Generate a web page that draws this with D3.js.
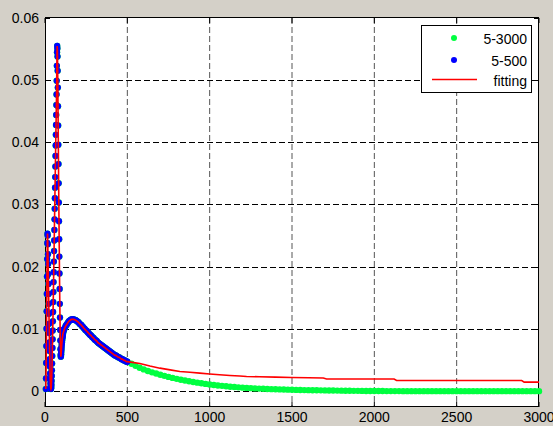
<!DOCTYPE html>
<html>
<head>
<meta charset="utf-8">
<script src="https://cdn.jsdelivr.net/npm/d3@7"></script>
<style>
  html, body { margin: 0; padding: 0; background: #d4d0c8; }
  svg { display: block; }
  text { font-family: "Liberation Sans", Arial, sans-serif; font-size: 14px; fill: #000; }
</style>
</head>
<body>
<script>
// x sample grid of the measured series (5:1:110, then 115:5:500)
const nearX = d3.range(5, 111).concat(d3.range(115, 501, 5));

// "5-500" values
const nearY = [
  0.0003, 0.0020, 0.0045, 0.0072, 0.0100, 0.0128, 0.0156, 0.0184, 0.0212, 0.0238,
  0.0253, 0.0250, 0.0236, 0.0220, 0.0204, 0.0188, 0.0172, 0.0156, 0.0140, 0.0124,
  0.0108, 0.0093, 0.0078, 0.0064, 0.0051, 0.0039, 0.0028, 0.0019, 0.0012, 0.0007,
  0.0004, 0.0003, 0.0004, 0.0006, 0.0010, 0.0016, 0.0024, 0.0033, 0.0044, 0.0056,
  0.0069, 0.0083, 0.0097, 0.0112, 0.0127, 0.0143, 0.0159, 0.0175, 0.0191, 0.0208,
  0.0225, 0.0242, 0.0259, 0.0276, 0.0293, 0.0310, 0.0327, 0.0344, 0.0361, 0.0378,
  0.0395, 0.0412, 0.0428, 0.0444, 0.0460, 0.0477, 0.0499, 0.0523, 0.0545, 0.0555,
  0.0551, 0.0538, 0.0515, 0.0488, 0.0458, 0.0427, 0.0396, 0.0365, 0.0334, 0.0303,
  0.0273, 0.0244, 0.0216, 0.0189, 0.0164, 0.0140, 0.0118, 0.0098, 0.0081, 0.0067,
  0.0058, 0.0055, 0.0056, 0.0059, 0.0063, 0.0067, 0.0071, 0.0075, 0.0078, 0.0081,
  0.0084, 0.0086, 0.0088, 0.0090, 0.0092, 0.0093,
  // 115 .. 500 step 5
  0.0097, 0.0101, 0.0104, 0.0106, 0.0108, 0.0110, 0.0112, 0.0113, 0.0114, 0.0115,
  0.0115, 0.0115, 0.0115, 0.0114, 0.0114, 0.0113, 0.0112, 0.0111, 0.0110, 0.0108,
  0.0107, 0.0106, 0.0104, 0.0103, 0.0101, 0.0100, 0.0098, 0.0097, 0.0096, 0.0094,
  0.0093, 0.0091, 0.0090, 0.0089, 0.0087, 0.0086, 0.0085, 0.0083, 0.0082, 0.0081,
  0.0080, 0.0078, 0.0077, 0.0076, 0.0075, 0.0074, 0.0073, 0.0072, 0.0071, 0.0070,
  0.0069, 0.0068, 0.0067, 0.0066, 0.0065, 0.0064, 0.0063, 0.0062, 0.0061, 0.0060,
  0.0059, 0.0058, 0.0057, 0.0057, 0.0056, 0.0055, 0.0054, 0.0054, 0.0053, 0.0052,
  0.0051, 0.0051, 0.0050, 0.0049, 0.0049, 0.0048, 0.0047, 0.0047
];

// "5-3000" tail beyond 500 (525:25:3000)
const farX = d3.range(525, 3001, 25);
const farY = [
  0.00435, 0.00402, 0.00372, 0.00345, 0.00320, 0.00298, 0.00278, 0.00259, 0.00241, 0.00224,
  0.00208, 0.00193, 0.00179, 0.00166, 0.00154, 0.00143, 0.00132, 0.00122, 0.00112, 0.00103,
  0.00095, 0.00087, 0.00080, 0.00073, 0.00067, 0.00061, 0.00056, 0.00051, 0.00047, 0.00043,
  0.00039, 0.00036, 0.00033, 0.00030, 0.00027, 0.00025, 0.00023, 0.00021, 0.00019, 0.00017,
  0.00015, 0.00014, 0.00012, 0.00011, 0.00010, 0.00009, 0.00008, 0.00007, 0.00006, 0.00005,
  0.00004, 0.00003, 0.00002, 0.00001, 0.00000, 0.00000, -0.00001, -0.00002, -0.00002, -0.00003,
  -0.00003, -0.00003, -0.00004, -0.00004, -0.00004, -0.00004, -0.00005, -0.00005, -0.00005, -0.00005,
  -0.00005, -0.00005, -0.00005, -0.00005, -0.00005, -0.00005, -0.00005, -0.00005, -0.00005, -0.00005,
  -0.00005, -0.00005, -0.00005, -0.00005, -0.00005, -0.00005, -0.00005, -0.00005, -0.00005, -0.00005,
  -0.00005, -0.00005, -0.00005, -0.00005, -0.00005, -0.00005, -0.00005, -0.00005, -0.00005, -0.00005
];

// fitting curve beyond 500
const fitTailX = [520, 576, 637, 698, 760, 819, 880, 940, 1000, 1060, 1123, 1183, 1224, 1300, 1400, 1497, 1600, 1690, 1710, 2120, 2135, 2895, 2910, 3000];
const fitTailY = [0.00462, 0.00440, 0.00400, 0.00365, 0.00338, 0.00312, 0.00298, 0.00285, 0.00270, 0.00258, 0.00247, 0.00240, 0.00232, 0.00226, 0.00220, 0.00214, 0.00210, 0.00206, 0.00190, 0.00190, 0.00166, 0.00166, 0.00140, 0.00140];

const xTicks = [0, 500, 1000, 1500, 2000, 2500, 3000];
const yTicks = [0, 0.01, 0.02, 0.03, 0.04, 0.05, 0.06];
const legendLabels = ["5-3000", "5-500", "fitting"];

const W = 553, H = 426;
const x = d3.scaleLinear().domain([0, 3000]).range([45, 539]);
const y = d3.scaleLinear().domain([-0.0026, 0.06]).range([407, 18]);

const svg = d3.select("body").append("svg").attr("width", W).attr("height", H);

// axes background
svg.append("rect")
  .attr("x", x(0)).attr("y", y(0.06))
  .attr("width", x(3000) - x(0)).attr("height", y(-0.0026) - y(0.06))
  .attr("fill", "#fff");

// grid
const grid = svg.append("g").attr("stroke", "#000").attr("stroke-dasharray", "6,3").attr("stroke-width", 1);
grid.selectAll(".gx").data(xTicks.slice(1, -1)).enter().append("line")
  .attr("x1", d => x(d)).attr("x2", d => x(d))
  .attr("y1", y(0.06)).attr("y2", y(-0.0026))
  .attr("stroke", "#555");
grid.selectAll(".gy").data(yTicks.slice(0, -1)).enter().append("line")
  .attr("x1", x(0)).attr("x2", x(3000))
  .attr("y1", d => Math.round(y(d)) + 0.5).attr("y2", d => Math.round(y(d)) + 0.5);

// box + ticks
const frame = svg.append("g").attr("stroke", "#000").attr("fill", "none");
frame.append("rect")
  .attr("x", x(0) + 0.5).attr("y", y(0.06) - 0.5)
  .attr("width", x(3000) - x(0) - 1).attr("height", y(-0.0026) - y(0.06));
const tl = 5;
xTicks.forEach(t => {
  frame.append("line").attr("x1", x(t)).attr("x2", x(t)).attr("y1", y(-0.0026)).attr("y2", y(-0.0026) - tl);
  frame.append("line").attr("x1", x(t)).attr("x2", x(t)).attr("y1", y(0.06)).attr("y2", y(0.06) + tl);
});
yTicks.forEach(t => {
  const yy = Math.round(y(t)) + 0.5;
  frame.append("line").attr("x1", x(0)).attr("x2", x(0) + tl).attr("y1", yy).attr("y2", yy);
  frame.append("line").attr("x1", x(3000)).attr("x2", x(3000) - tl).attr("y1", yy).attr("y2", yy);
});

// tick labels
svg.selectAll(".xl").data(xTicks).enter().append("text")
  .attr("x", d => x(d)).attr("y", 422).attr("text-anchor", "middle")
  .text(d => d);
svg.selectAll(".yl").data(yTicks).enter().append("text")
  .attr("x", 39).attr("y", d => y(d)).attr("dy", "0.36em").attr("text-anchor", "end")
  .text(d => d === 0 ? "0" : d.toFixed(2));

// series
const near = nearX.map((d, i) => [d, nearY[i]]);
const far = near.concat(farX.map((d, i) => [d, farY[i]]));
const fit = near.concat(fitTailX.map((d, i) => [d, fitTailY[i]]));

svg.append("g").attr("fill", "#00ff40")
  .selectAll("circle").data(far).enter().append("circle")
  .attr("cx", d => x(d[0])).attr("cy", d => y(d[1])).attr("r", 3.2);

svg.append("g").attr("fill", "#0000ff")
  .selectAll("circle").data(near).enter().append("circle")
  .attr("cx", d => x(d[0])).attr("cy", d => y(d[1])).attr("r", 3.1);

const line = d3.line().x(d => x(d[0])).y(d => y(d[1]));
svg.append("path").datum(fit)
  .attr("d", line).attr("fill", "none").attr("stroke", "#ff0000").attr("stroke-width", 1.6);

// legend
const lg = svg.append("g");
lg.append("rect").attr("x", 421.5).attr("y", 25.5).attr("width", 110).attr("height", 67)
  .attr("fill", "#fff").attr("stroke", "#000");
lg.append("circle").attr("cx", 454).attr("cy", 38).attr("r", 3).attr("fill", "#00ff40");
lg.append("circle").attr("cx", 454).attr("cy", 60).attr("r", 3).attr("fill", "#0000ff");
lg.append("line").attr("x1", 432).attr("x2", 477).attr("y1", 79.5).attr("y2", 79.5)
  .attr("stroke", "#ff0000").attr("stroke-width", 1.6);
const rowsY = [39, 61, 81];
lg.selectAll("text").data(legendLabels).enter().append("text")
  .attr("x", 527).attr("y", (d, i) => rowsY[i]).attr("dy", "0.36em")
  .attr("text-anchor", "end").text(d => d);
</script>
</body>
</html>
